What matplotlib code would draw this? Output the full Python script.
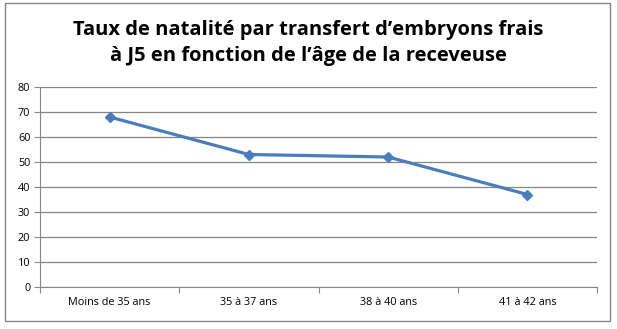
import matplotlib.pyplot as plt
from matplotlib.patches import Rectangle

# data
categories = ['Moins de 35 ans', '35 à 37 ans', '38 à 40 ans', '41 à 42 ans']
taux = [68, 53, 52, 37]
yticks = [0, 10, 20, 30, 40, 50, 60, 70, 80]

plt.rcParams['font.family'] = ['Open Sans', 'DejaVu Sans']

fig = plt.figure(figsize=(6.17, 3.29), dpi=100)
fig.patches.append(Rectangle((5 / 617, 1 - 321 / 329), 605 / 617, 318 / 329,
                             transform=fig.transFigure, fill=False,
                             edgecolor='#868686', linewidth=1))

ax = fig.add_axes([40 / 617, 1 - 287 / 329, 557 / 617, 200 / 329])

x = range(len(categories))
ax.plot(x, taux, color='#4A7EBB', linewidth=2.3, marker='D', markersize=5,
        markerfacecolor='#4A7EBB', markeredgecolor='#4A7EBB')

ax.set_xlim(-0.5, len(categories) - 0.5)
ax.set_ylim(0, 80)
ax.set_yticks(yticks)
ax.grid(axis='y', color='#868686', linewidth=0.9)
ax.set_axisbelow(True)

# category labels between boundary ticks
ax.set_xticks([i - 0.5 for i in range(len(categories) + 1)])
ax.set_xticklabels([])
ax.set_xticks(list(x), minor=True)
ax.set_xticklabels(categories, minor=True, fontsize=7.8)
ax.tick_params(axis='x', which='minor', length=0, pad=7)
ax.tick_params(axis='x', which='major', length=4, color='#868686', direction='out')
ax.tick_params(axis='y', length=4, color='#868686', labelsize=7.8, pad=3)

for side in ['top', 'right']:
    ax.spines[side].set_visible(False)
for side in ['left', 'bottom']:
    ax.spines[side].set_color('#868686')

fig.text(0.5, 1 - 43 / 329, "Taux de natalité par transfert d\u2019embryons frais\nà J5 en fonction de l\u2019âge de la receveuse",
         ha='center', va='center', fontsize=14.5, fontweight='bold', linespacing=1.45)

fig.savefig('out.png', dpi=100)
